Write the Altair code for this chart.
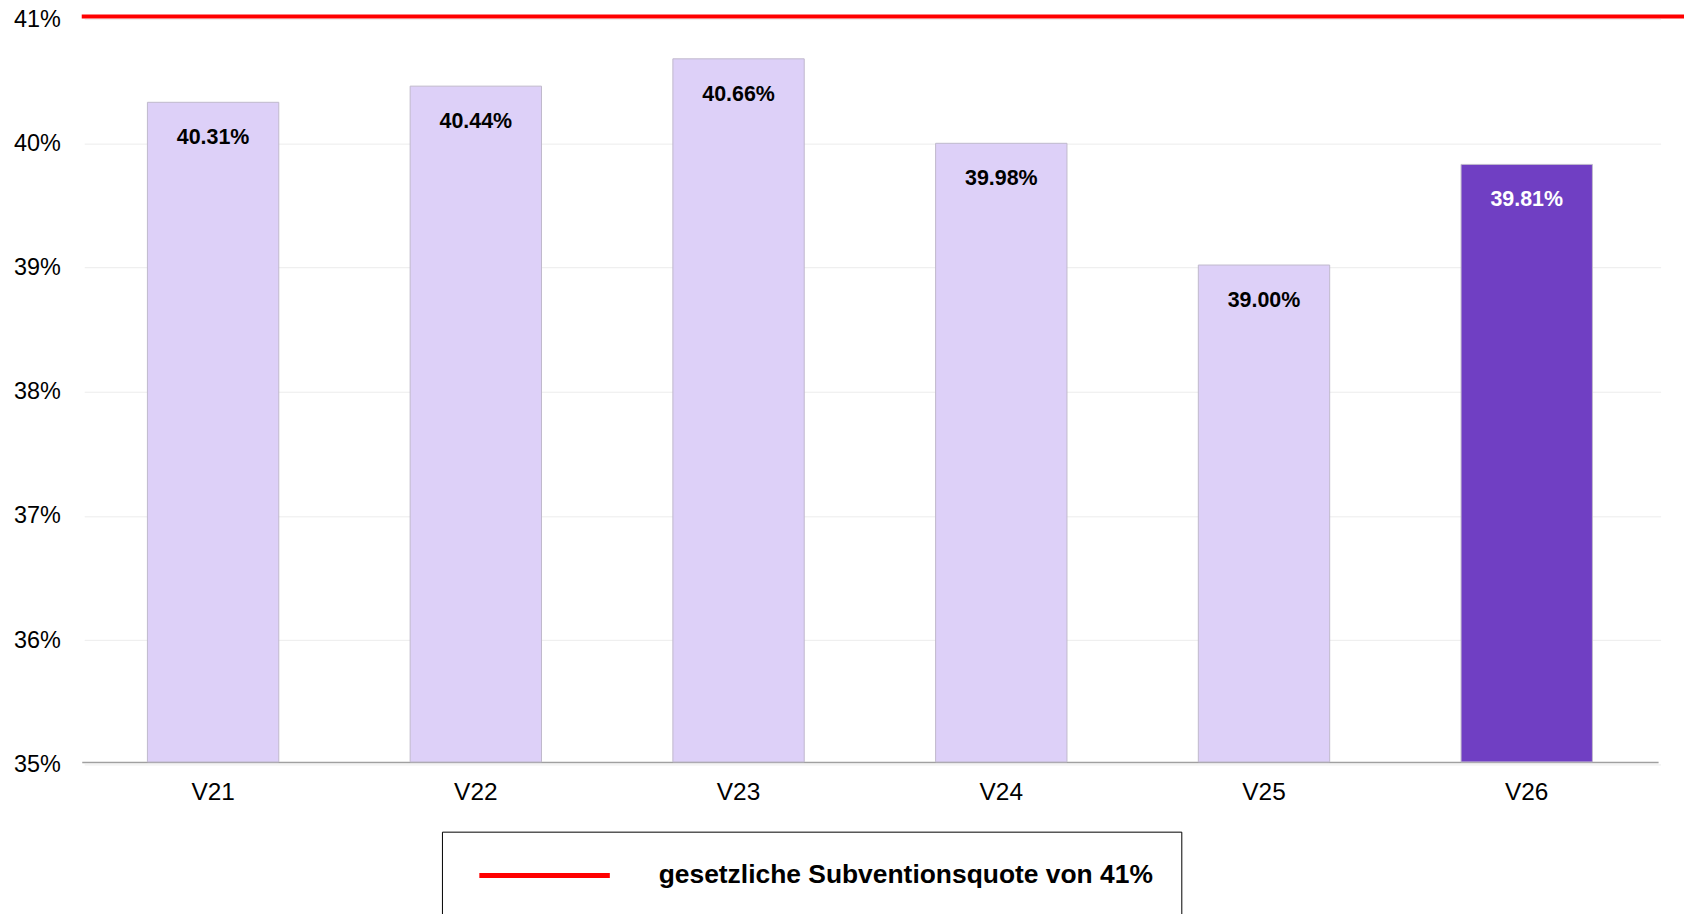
import altair as alt
import pandas as pd

# ---- data ----
periods = ["V21", "V22", "V23", "V24", "V25", "V26"]
rates = [40.31, 40.44, 40.66, 39.98, 39.00, 39.81]
groups = ["frueher", "frueher", "frueher", "frueher", "frueher", "aktuell"]
y_ticks = [35, 36, 37, 38, 39, 40, 41]

target_values = [41]
target_labels = ["gesetzliche Subventionsquote von 41%"]

LIGHT = "#DDD0F8"
DARK = "#703FC3"
FONT = "Liberation Sans"

bars_df = pd.DataFrame({"period": periods, "rate": rates, "group": groups})
rule_df = pd.DataFrame({"rate": target_values, "series": target_labels})

x_enc = alt.X(
    "period:N",
    sort=periods,
    scale=alt.Scale(paddingInner=0.5, paddingOuter=0.25),
    axis=alt.Axis(
        title=None, labelAngle=0, ticks=False, labelPadding=19,
        labelFont=FONT, labelFontSize=24.5, labelColor="black",
        domainColor="#a0a0a0", domainWidth=1.5, grid=False,
    ),
)
y_enc = alt.Y(
    "rate:Q",
    scale=alt.Scale(domain=[35, 41], zero=False, nice=False),
    axis=alt.Axis(
        title=None, values=y_ticks, labelExpr="datum.value + '%'",
        ticks=False, domain=False, grid=True, gridColor="#ececec",
        gridWidth=1, labelPadding=24, labelFont=FONT, labelFontSize=23.5,
        labelColor="black", translate=3,
    ),
)

bars = alt.Chart(bars_df).mark_bar(stroke="#c0b9cc", strokeWidth=1).encode(
    x=x_enc,
    y=y_enc,
    y2=alt.datum(35),
    color=alt.Color(
        "group:N",
        scale=alt.Scale(domain=["frueher", "aktuell"], range=[LIGHT, DARK]),
        legend=None,
    ),
)

text = alt.Chart(bars_df).transform_calculate(
    label="format(datum.rate, '.2f') + '%'"
).mark_text(
    baseline="middle", align="center", dy=36,
    font=FONT, fontSize=21.5, fontWeight="bold",
).encode(
    x=alt.X("period:N", sort=periods),
    y=alt.Y("rate:Q"),
    text="label:N",
    color=alt.condition(alt.datum.group == "aktuell", alt.value("white"), alt.value("black")),
)

rule = alt.Chart(rule_df).mark_rule(strokeWidth=4).encode(
    y=alt.Y("rate:Q"),
    x=alt.value(0),
    x2=alt.value(1608),
    stroke=alt.Stroke(
        "series:N",
        scale=alt.Scale(range=["#ff0000"]),
        legend=alt.Legend(
            title=None, orient="none", legendX=361.5, legendY=818,
            strokeColor="black", padding=28,
            symbolType="M-5,0H5", symbolSize=686, symbolStrokeWidth=5,
            symbolOffset=59, labelOffset=98.5,
            labelFont=FONT, labelFontSize=26.5, labelFontWeight="bold",
            labelColor="black", labelLimit=1000,
        ),
    ),
)

chart = alt.layer(bars, text, rule).properties(
    width=1582,
    height=748,
    autosize=alt.AutoSizeParams(type="none"),
    padding={"left": 74, "top": 7, "right": 26, "bottom": 151},
    background="white",
).configure_view(stroke=None)

chart.save("out.html", embed_options={"renderer": "svg", "actions": False})
